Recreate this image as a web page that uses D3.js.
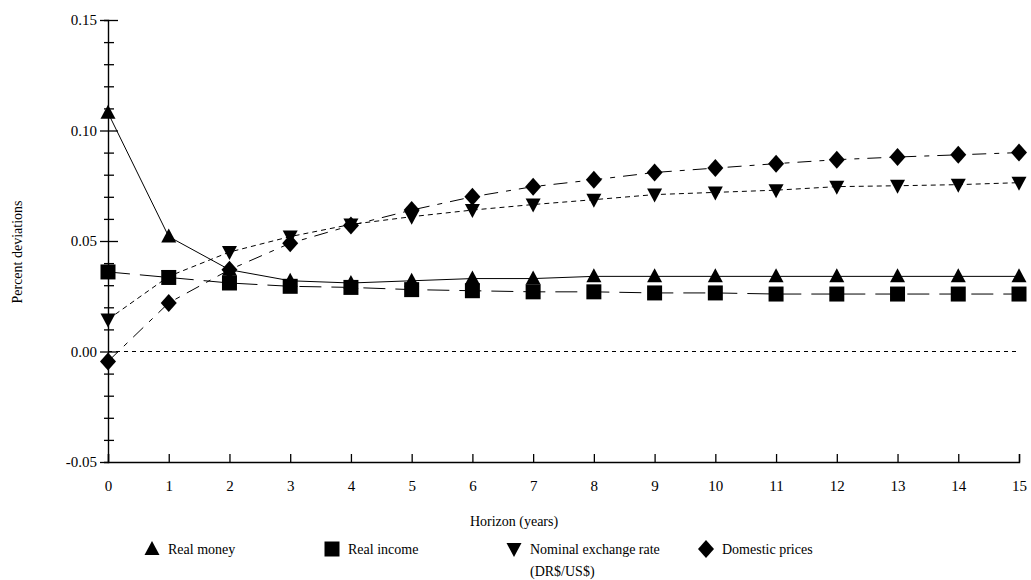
<!DOCTYPE html>
<html><head><meta charset="utf-8">
<script src="https://cdn.jsdelivr.net/npm/d3@7"></script>
<style>body{margin:0;background:#fff}svg{display:block}text{font-family:"Liberation Serif","Times New Roman",serif;fill:#000}</style>
</head><body><svg id="c" width="1031" height="580"></svg>
<script>
const horizon = [0,1,2,3,4,5,6,7,8,9,10,11,12,13,14,15];
const realMoney = [0.108,0.052,0.037,0.032,0.031,0.032,0.033,0.033,0.034,0.034,0.034,0.034,0.034,0.034,0.034,0.034];
const realIncome = [0.036,0.0335,0.031,0.0295,0.029,0.028,0.0275,0.027,0.027,0.0265,0.0265,0.026,0.026,0.026,0.026,0.026];
const exchangeRate = [0.0145,0.034,0.045,0.052,0.0575,0.061,0.064,0.0665,0.0687,0.071,0.072,0.073,0.0746,0.075,0.0755,0.0764];
const domesticPrices = [-0.0045,0.022,0.037,0.049,0.057,0.064,0.070,0.0746,0.0777,0.081,0.083,0.085,0.0868,0.088,0.089,0.090];
const yMajor = [-0.05,0.00,0.05,0.10,0.15];
const yMajorLabels = ["-0.05","0.00","0.05","0.10","0.15"];
const yMinor = d3.range(-0.05,0.1501,0.01).map(v=>+v.toFixed(2));
const seriesNames = ["Real money","Real income","Nominal exchange rate","Domestic prices"];

const serif = '"Liberation Serif","Times New Roman",serif';
const svg = d3.select("#c");
const x = d3.scaleLinear().domain([0,15]).range([108,1019]);
const y = d3.scaleLinear().domain([-0.05,0.15]).range([462,20]);
const majorIdx = v => yMajor.findIndex(m=>Math.abs(m-v)<1e-9);

// zero reference line
svg.append("line").attr("x1",x(0)).attr("x2",x(15)).attr("y1",y(0)).attr("y2",y(0))
  .attr("stroke","#000").attr("stroke-width",1).attr("stroke-dasharray","4,4");

// y axis with minor ticks
const gy = svg.append("g").attr("transform",`translate(${x(0)},0)`)
  .call(d3.axisLeft(y).tickValues(yMinor).tickSize(4).tickPadding(7)
    .tickFormat(v => { const k = majorIdx(v); return k>=0 ? yMajorLabels[k] : ""; }));
gy.attr("font-family",serif).attr("font-size",15);
gy.select(".domain").attr("stroke-width",1.4);
gy.selectAll(".tick line").attr("x1",6).attr("stroke-width",1.3);
gy.selectAll(".tick").filter(v => majorIdx(v)>=0).select("line").attr("x2",-8)
  .attr("x1", v => Math.abs(v+0.05)<1e-9 ? 0 : 10);

// x axis
const gx = svg.append("g").attr("transform",`translate(0,${y(-0.05)})`)
  .call(d3.axisBottom(x).tickValues(horizon).tickSize(-8).tickPadding(18).tickFormat(d3.format("d")));
gx.attr("font-family",serif).attr("font-size",15);
gx.select(".domain").attr("stroke-width",1.4);
gx.selectAll(".tick line").attr("stroke-width",1.3);

// axis titles
svg.append("text").attr("transform","translate(22,252) rotate(-90)").attr("text-anchor","middle")
  .style("font-size","14px").text("Percent deviations");
svg.append("text").attr("x",514).attr("y",526).attr("text-anchor","middle")
  .style("font-size","14px").text("Horizon (years)");

// marker paths
const mk = {
  up: "M0,-8L7.5,6L-7.5,6Z",
  square: "M-7.5,-7.5H7.5V7.5H-7.5Z",
  down: "M0,8L7.5,-6L-7.5,-6Z",
  diamond: "M0,-9L8,0L0,9L-8,0Z"
};
const series = [
  {name:seriesNames[0], vals:realMoney, dash:null, m:mk.up},
  {name:seriesNames[1], vals:realIncome, dash:"22,10", m:mk.square},
  {name:seriesNames[2], vals:exchangeRate, dash:"5,4", m:mk.down},
  {name:seriesNames[3], vals:domesticPrices, dash:"14,8,5,8", m:mk.diamond}
];
const line = d3.line().x((d,i)=>x(horizon[i])).y(d=>y(d));
series.forEach(s=>{
  svg.append("path").datum(s.vals).attr("d",line).attr("fill","none").attr("stroke","#000")
    .attr("stroke-width",1).attr("stroke-dasharray",s.dash);
});
series.forEach(s=>{
  svg.append("g").selectAll("path").data(s.vals).join("path")
    .attr("d",s.m).attr("transform",(d,i)=>`translate(${x(horizon[i])},${y(d)})`).attr("fill","#000");
});

// legend
const legX = [152,332,514,706];
series.forEach((s,i)=>{
  svg.append("path").attr("d",s.m).attr("transform",`translate(${legX[i]},549)`).attr("fill","#000");
  svg.append("text").attr("x",legX[i]+16).attr("y",554).style("font-size","14px").text(s.name);
});
svg.append("text").attr("x",legX[2]+16).attr("y",576).style("font-size","14px").text("(DR$/US$)");
</script></body></html>
